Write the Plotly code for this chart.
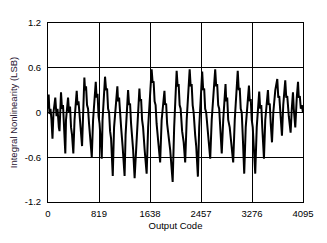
import plotly.graph_objects as go

codes = [0, 11, 24, 40, 56, 72, 88, 117, 137, 153, 174, 185, 209, 225, 241, 257, 278,
         289, 322, 338, 354, 370, 386, 407, 426, 461, 474, 490, 506, 523, 547, 560, 584,
         595, 611, 627, 643, 659, 675, 703, 724, 767, 780, 796, 812, 828, 844, 863, 876,
         916, 933, 949, 965, 981, 997, 1013, 1040, 1061, 1114, 1125, 1142, 1158, 1174, 1198,
         1230, 1246, 1286, 1302, 1318, 1334, 1351, 1367, 1391, 1423, 1468, 1479, 1495, 1511,
         1527, 1552, 1584, 1608, 1648, 1664, 1680, 1696, 1712, 1728, 1744, 1769, 1801, 1825,
         1870, 1881, 1897, 1913, 1937, 1962, 2002, 2026, 2066, 2082, 2098, 2114, 2130, 2154,
         2179, 2203, 2227, 2275, 2291, 2307, 2323, 2339, 2363, 2380, 2407, 2428, 2476, 2492,
         2508, 2524, 2540, 2565, 2581, 2605, 2629, 2685, 2701, 2717, 2733, 2749, 2773, 2790,
         2814, 2851, 2862, 2878, 2894, 2918, 2942, 2974, 2999, 3047, 3063, 3079, 3095, 3111,
         3127, 3151, 3175, 3227, 3240, 3256, 3272, 3288, 3304, 3328, 3352, 3392, 3408, 3425,
         3441, 3468, 3489, 3532, 3545, 3561, 3577, 3597, 3618, 3650, 3682, 3698, 3714, 3730,
         3757, 3778, 3810, 3826, 3842, 3867, 3896, 3915, 3934, 3947, 3971, 3995, 4015, 4027,
         4044, 4060, 4076, 4095]

inl = [0.05, 0.24, -0.02, 0.05, -0.10, -0.35, 0.0, 0.20, -0.05, 0.05, -0.20, -0.25, 0.27,
       0.05, 0.10, -0.20, -0.55, -0.10, 0.20, 0.0, 0.08, -0.20, -0.30, -0.55, -0.10, 0.29,
       0.10, 0.15, -0.10, -0.20, -0.45, 0.0, 0.47, 0.30, 0.35, 0.10, 0.05, -0.15, -0.30,
       -0.60, -0.10, 0.41, 0.20, 0.25, -0.05, -0.15, -0.35, -0.62, -0.10, 0.48, 0.30, 0.32,
       0.05, 0.0, -0.25, -0.35, -0.85, -0.20, 0.35, 0.15, 0.20, -0.10, -0.20, -0.45, -0.85,
       -0.30, 0.30, 0.10, 0.12, -0.15, -0.30, -0.50, -0.88, -0.30, 0.32, 0.15, 0.18, -0.10,
       -0.20, -0.50, -0.82, -0.20, 0.45, 0.58, 0.40, 0.42, 0.15, 0.10, -0.15, -0.35, -0.67,
       -0.10, 0.29, 0.10, 0.12, -0.15, -0.30, -0.50, -0.93, -0.20, 0.56, 0.35, 0.38, 0.10,
       0.05, -0.25, -0.40, -0.67, -0.10, 0.58, 0.35, 0.38, 0.10, 0.0, -0.30, -0.45, -0.86,
       -0.20, 0.55, 0.30, 0.32, 0.05, 0.0, -0.25, -0.35, -0.62, -0.10, 0.58, 0.35, 0.38,
       0.10, 0.05, -0.30, -0.55, -0.10, 0.38, 0.15, 0.20, -0.10, -0.20, -0.40, -0.67, -0.10,
       0.56, 0.30, 0.33, 0.05, 0.0, -0.30, -0.82, -0.20, 0.36, 0.15, 0.18, -0.10, -0.20,
       -0.45, -0.82, -0.20, 0.28, 0.05, 0.10, -0.20, -0.62, -0.10, 0.30, 0.10, 0.12, -0.15,
       -0.40, 0.0, 0.30, 0.45, 0.20, 0.22, -0.05, -0.31, 0.10, 0.43, 0.20, 0.22, -0.05,
       -0.27, 0.05, 0.27, 0.05, -0.20, 0.20, 0.41, 0.20, 0.22, 0.05, 0.10, 0.0]

x_ticks = [0, 819, 1638, 2457, 3276, 4095]
y_ticks = [-1.2, -0.6, 0, 0.6, 1.2]
y_labels = ["-1.2", "-0.6", "0", "0.6", "1.2"]

font_family = "Liberation Sans, Arial, sans-serif"

fig = go.Figure()
fig.add_trace(go.Scatter(x=codes, y=inl, mode="lines",
                         line=dict(color="black", width=2), showlegend=False))

fig.update_layout(
    width=327, height=243, autosize=False,
    margin=dict(l=48, r=24, t=23, b=41, autoexpand=False),
    paper_bgcolor="white", plot_bgcolor="white",
    font=dict(family=font_family, size=9.5, color="black"),
)
fig.update_xaxes(
    range=[0, 4095], tickvals=x_ticks, ticktext=[str(v) for v in x_ticks],
    showgrid=True, gridcolor="black", gridwidth=1,
    showline=True, linecolor="black", linewidth=1, mirror=True,
    zeroline=False, ticks="", ticklabelstandoff=3, automargin=False,
    title=dict(text="Output Code", font=dict(size=9.5, color="black"), standoff=3),
)
fig.update_yaxes(
    range=[-1.2, 1.2], tickvals=y_ticks, ticktext=y_labels,
    showgrid=True, gridcolor="black", gridwidth=1,
    showline=True, linecolor="black", linewidth=1, mirror=True,
    zeroline=False, ticks="", ticklabelstandoff=4, automargin=False,
    title=dict(text="Integral Nonlinearity (LSB)", font=dict(size=9.5, color="#281432"), standoff=5),
)

fig.write_html("out.html")
